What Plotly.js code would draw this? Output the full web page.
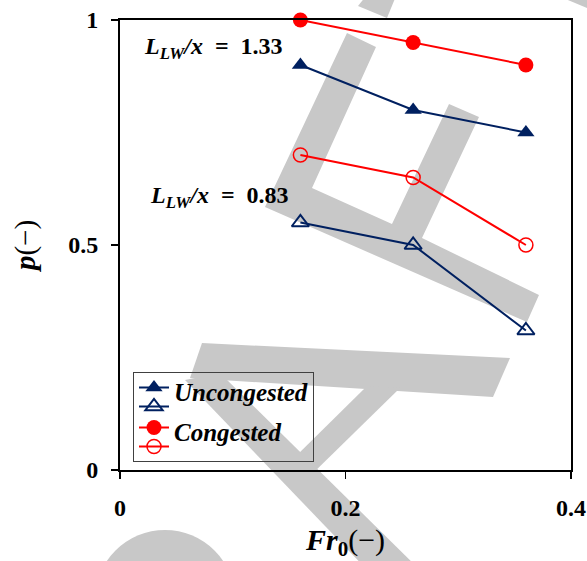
<!DOCTYPE html>
<html>
<head>
<meta charset="utf-8">
<script src="https://cdn.plot.ly/plotly-3.0.1.min.js"></script>
<style>
  html, body { margin: 0; padding: 0; background: #fff; }
  #chart { width: 587px; height: 561px; }
</style>
</head>
<body>
<div id="chart"></div>
<script>
// Inlet Froude number Fr0
const froude = [0.16, 0.26, 0.36];

// Probability p for each flow regime and lateral weir length ratio
const uncongestedLong  = [0.90, 0.80, 0.75];   // L_LW/x = 1.33
const uncongestedShort = [0.55, 0.50, 0.31];   // L_LW/x = 0.83
const congestedLong    = [1.00, 0.95, 0.90];   // L_LW/x = 1.33
const congestedShort   = [0.70, 0.65, 0.50];   // L_LW/x = 0.83

const regimeNames = ['Uncongested', 'Congested'];
const ratioLabels = ['1.33', '0.83'];

const xTickVals = [0, 0.2, 0.4];
const xTickText = ['0', '0.2', '0.4'];
const yTickVals = [0, 0.5, 1];
const yTickText = ['0', '0.5', '1'];

const NAVY = '#002060';
const RED = '#ff0000';
const SERIF = 'Liberation Serif, Times New Roman, serif';

const W = 587, H = 561;
const M = { l: 120, r: 16, t: 20, b: 91 };
const PW = W - M.l - M.r, PH = H - M.t - M.b;

// pixel -> paper helpers for the background stamp
const px2x = px => (px - M.l) / PW;
const py2y = py => (H - M.b - py) / PH;
function poly(pts) {
  return 'M' + pts.map(p => px2x(p[0]).toFixed(4) + ',' + py2y(p[1]).toFixed(4)).join('L') + 'Z';
}

const GREY = 'rgb(200,200,200)';
const stampPolys = [
  [[347,33],[376,47],[312,188],[392,224],[449,104],[479,117],[422,238],[539,295],[527,322],[265,207]],
  [[358,6],[387,18],[396,-4],[366,-4]],
  [[563,-2],[592,-2],[592,10]],
  [[202,343],[510,358],[493,397],[190,378]],
  [[185,380],[220,373],[425,575],[372,575]],
  [[367,386],[400,388],[308,478],[290,462]]
];
const shapes = stampPolys.map(p => ({
  type: 'path', xref: 'paper', yref: 'paper', layer: 'below',
  path: poly(p), fillcolor: GREY, line: { width: 0 }
}));
shapes.push({
  type: 'circle', xref: 'paper', yref: 'paper', layer: 'below',
  x0: px2x(95), x1: px2x(235), y0: py2y(670), y1: py2y(530),
  fillcolor: GREY, line: { width: 0 }
});

// legend label sits between the filled and open symbol of its group
function legendLabel(s) {
  return '<span style="font-size:25px;baseline-shift:-9px">' + s + '</span>';
}

const traces = [
  {
    x: froude, y: uncongestedLong, name: legendLabel(regimeNames[0]), legendgroup: 'u',
    mode: 'lines+markers', cliponaxis: false,
    line: { color: NAVY, width: 2 },
    marker: { symbol: 'triangle-up', size: 15, color: NAVY }
  },
  {
    x: froude, y: uncongestedShort, name: '', legendgroup: 'u',
    mode: 'lines+markers', cliponaxis: false,
    line: { color: NAVY, width: 2 },
    marker: { symbol: 'triangle-up-open', size: 15, color: NAVY, line: { width: 2, color: NAVY } }
  },
  {
    x: froude, y: congestedLong, name: legendLabel(regimeNames[1]), legendgroup: 'c',
    mode: 'lines+markers', cliponaxis: false,
    line: { color: RED, width: 2 },
    marker: { symbol: 'circle', size: 15, color: RED }
  },
  {
    x: froude, y: congestedShort, name: '', legendgroup: 'c',
    mode: 'lines+markers', cliponaxis: false,
    line: { color: RED, width: 2 },
    marker: { symbol: 'circle-open', size: 14, color: RED, line: { width: 1.5, color: RED } }
  }
];

function ratioText(v) {
  return '<b><i>L</i><sub><i>LW</i></sub><i>/x</i>\u2002=\u2002' + v + '</b>';
}

const layout = {
  width: W, height: H,
  margin: M,
  paper_bgcolor: '#ffffff',
  plot_bgcolor: 'rgba(0,0,0,0)',
  showlegend: true,
  font: { family: SERIF, color: '#000' },
  xaxis: {
    range: [0, 0.4], tickvals: xTickVals, ticktext: xTickText,
    showgrid: false, zeroline: false,
    showline: true, linewidth: 2, linecolor: '#000', mirror: true,
    ticks: 'outside', ticklen: 7, tickwidth: 1.5, tickcolor: '#000',
    ticklabelstandoff: 8,
    tickfont: { family: SERIF, size: 24, weight: 'bold', color: '#000' },
    title: {
      text: '<b><i>Fr</i><sub>0</sub></b>(−)',
      font: { family: SERIF, size: 30, color: '#000' },
      standoff: 10
    }
  },
  yaxis: {
    range: [0, 1], tickvals: yTickVals, ticktext: yTickText,
    showgrid: false, zeroline: false,
    showline: true, linewidth: 2, linecolor: '#000', mirror: true,
    ticks: 'outside', ticklen: 7, tickwidth: 1.5, tickcolor: '#000',
    ticklabelstandoff: 8,
    tickfont: { family: SERIF, size: 24, weight: 'bold', color: '#000' },
    title: {
      text: '<b><i>p</i></b>(−)',
      font: { family: SERIF, size: 29, color: '#000' },
      standoff: 24
    }
  },
  legend: {
    x: px2x(133), y: py2y(462), xanchor: 'left', yanchor: 'bottom',
    bgcolor: 'rgba(0,0,0,0)', bordercolor: '#404040', borderwidth: 1,
    traceorder: 'grouped', tracegroupgap: 2,
    font: { family: SERIF, size: 12, weight: 'bold', style: 'italic', color: '#000' }
  },
  annotations: [
    {
      xref: 'paper', yref: 'paper', x: px2x(142), y: py2y(48),
      xanchor: 'left', yanchor: 'middle', showarrow: false,
      text: ratioText(ratioLabels[0]),
      font: { family: SERIF, size: 24, color: '#000' }
    },
    {
      xref: 'paper', yref: 'paper', x: px2x(148), y: py2y(197),
      xanchor: 'left', yanchor: 'middle', showarrow: false,
      text: ratioText(ratioLabels[1]),
      font: { family: SERIF, size: 24, color: '#000' }
    }
  ],
  shapes: shapes
};

Plotly.newPlot('chart', traces, layout, { displayModeBar: false, staticPlot: true });
</script>
</body>
</html>
